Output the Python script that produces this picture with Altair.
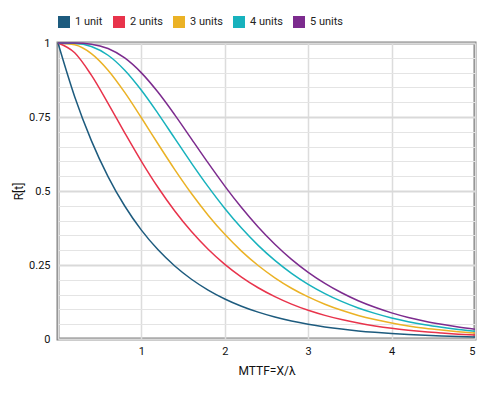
import altair as alt
import pandas as pd

t = [0.0, 0.2, 0.4, 0.6, 0.8, 1.0, 1.2, 1.4, 1.6, 1.8, 2.0, 2.2, 2.4, 2.6,
     2.8, 3.0, 3.2, 3.4, 3.6, 3.8, 4.0, 4.2, 4.4, 4.6, 4.8, 5.0]

units_1 = [1.0, 0.8187, 0.6703, 0.5488, 0.4493, 0.3679, 0.3012, 0.2466, 0.2019,
           0.1653, 0.1353, 0.1108, 0.0907, 0.0743, 0.0608, 0.0498, 0.0408,
           0.0334, 0.0273, 0.0224, 0.0183, 0.0150, 0.0123, 0.0101, 0.0082, 0.0067]
units_2 = [1.0, 0.9671, 0.8913, 0.7964, 0.6967, 0.6004, 0.5117, 0.4324, 0.3630,
           0.3033, 0.2523, 0.2093, 0.1732, 0.1431, 0.1179, 0.0971, 0.0799,
           0.0657, 0.0539, 0.0443, 0.0363, 0.0298, 0.0244, 0.0201, 0.0163, 0.0134]
units_3 = [1.0, 0.9940, 0.9642, 0.9081, 0.8330, 0.7474, 0.6588, 0.5724, 0.4916,
           0.4184, 0.3535, 0.2969, 0.2482, 0.2067, 0.1715, 0.1421, 0.1175,
           0.0969, 0.0797, 0.0657, 0.0539, 0.0443, 0.0364, 0.0300, 0.0244, 0.0200]
units_4 = [1.0, 0.9989, 0.9882, 0.9586, 0.9080, 0.8403, 0.7615, 0.6778, 0.5943,
           0.5146, 0.4410, 0.3748, 0.3164, 0.2657, 0.2219, 0.1848, 0.1535,
           0.1270, 0.1048, 0.0866, 0.0712, 0.0586, 0.0483, 0.0398, 0.0324, 0.0265]
units_5 = [1.0, 0.9998, 0.9961, 0.9813, 0.9494, 0.8991, 0.8334, 0.7573, 0.6762,
           0.5948, 0.5166, 0.4441, 0.3784, 0.3202, 0.2692, 0.2254, 0.1880,
           0.1562, 0.1293, 0.1071, 0.0882, 0.0727, 0.0600, 0.0495, 0.0403, 0.0330]

series_names = ["1 unit", "2 units", "3 units", "4 units", "5 units"]
series_colors = ["#1d5b7e", "#e8334b", "#ebb225", "#17b2bd", "#7c2b8e"]
series_values = [units_1, units_2, units_3, units_4, units_5]

x_ticks = [0, 1, 2, 3, 4, 5]
y_ticks = [round(i * 0.05, 2) for i in range(21)]

rows = []
for name, vals in zip(series_names, series_values):
    for tv, rv in zip(t, vals):
        rows.append({"t": tv, "R": rv, "series": name})
df = pd.DataFrame(rows)

major = "abs(datum.value*4 - round(datum.value*4)) < 0.001"

x_enc = alt.X("t:Q", scale=alt.Scale(domain=[0, 5], nice=False),
              axis=alt.Axis(values=x_ticks, title="MTTF=X/λ",
                            labelExpr="datum.value == 0 ? '' : format(datum.value, '~g')",
                            domain=False, ticks=False, labelPadding=6,
                            gridColor="#dcdcdc", gridWidth=1.5,
                            titlePadding=9))
y_enc = alt.Y("R:Q", scale=alt.Scale(domain=[0, 1], nice=False),
              axis=alt.Axis(values=y_ticks, title="R[t]",
                            labelExpr=f"({major}) ? format(datum.value, '~g') : ''",
                            domain=False, ticks=False, labelPadding=8,
                            gridColor={"condition": {"test": major, "value": "#d9d9d9"}, "value": "#e4e4e4"},
                            gridWidth={"condition": {"test": major, "value": 2}, "value": 1},
                            titlePadding=3))
color_scale = alt.Scale(domain=series_names, range=series_colors)

lines = alt.Chart(df).mark_line(strokeWidth=1.5, interpolate="monotone").encode(
    x=x_enc, y=y_enc,
    color=alt.Color("series:N", scale=color_scale, legend=None),
)

keys = alt.Chart(df).mark_point(shape="square", filled=True, size=0, opacity=1).encode(
    x=x_enc, y=y_enc,
    color=alt.Color("series:N", scale=color_scale,
                    legend=alt.Legend(title=None, orient="none", direction="horizontal",
                                      legendX=0, legendY=-27,
                                      symbolType="square", symbolSize=144,
                                      symbolStrokeWidth=0, symbolOpacity=1,
                                      labelFontSize=11, labelColor="#222222",
                                      columnPadding=10, labelOffset=5)),
)

chart = alt.layer(lines, keys).resolve_legend(color="independent").properties(
    width=417, height=296,
    autosize=alt.AutoSizeParams(type="none"),
    padding={"left": 50, "top": 35, "right": 17, "bottom": 46},
).configure_view(
    stroke="#808080", strokeWidth=3
).configure_axis(
    labelFont="Roboto", titleFont="Roboto", labelFontSize=11, titleFontSize=12,
    labelColor="#111111", titleColor="#111111", titleFontWeight="normal"
).configure_legend(
    labelFont="Roboto"
)

chart.save("out.html", embed_options={"renderer": "svg", "actions": False})
